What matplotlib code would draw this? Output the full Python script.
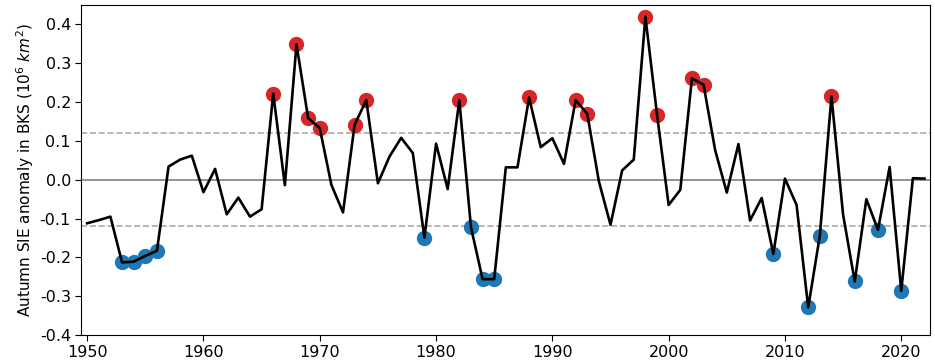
import numpy as np
import matplotlib
matplotlib.use("Agg")
import matplotlib.pyplot as plt

# jaren en herfst-SIE anomalie in BKS (10^6 km^2)
jaren = np.arange(1950, 2023)
anomalie = np.array([
    -0.112, -0.104, -0.095, -0.213, -0.211, -0.196, -0.183, 0.034, 0.052, 0.062,
    -0.032, 0.028, -0.089, -0.046, -0.095, -0.076, 0.222, -0.014, 0.349, 0.159,
    0.133, -0.013, -0.084, 0.142, 0.205, -0.009, 0.060, 0.108, 0.069, -0.149,
    0.093, -0.024, 0.205, -0.122, -0.256, -0.256, 0.032, 0.032, 0.212, 0.084,
    0.107, 0.041, 0.205, 0.170, -0.004, -0.116, 0.024, 0.052, 0.420, 0.168,
    -0.065, -0.026, 0.261, 0.245, 0.076, -0.033, 0.092, -0.105, -0.047, -0.191,
    0.003, -0.065, -0.329, -0.144, 0.215, -0.090, -0.262, -0.050, -0.129, 0.033,
    -0.286, 0.004, 0.003,
])
drempel = 0.12
y_ticks = [-0.4, -0.3, -0.2, -0.1, 0.0, 0.1, 0.2, 0.3, 0.4]
x_ticks = [1950, 1960, 1970, 1980, 1990, 2000, 2010, 2020]

hoog = anomalie > drempel
laag = anomalie < -drempel

fig, ax = plt.subplots(figsize=(9.35, 3.63), dpi=100)
fig.subplots_adjust(left=0.087, right=0.995, top=0.986, bottom=0.077)

ax.axhline(0, color="gray", linewidth=1.2, zorder=1)
ax.axhline(drempel, color="#aaaaaa", linewidth=1.2, linestyle="--", zorder=1)
ax.axhline(-drempel, color="#aaaaaa", linewidth=1.2, linestyle="--", zorder=1)

ax.scatter(jaren[hoog], anomalie[hoog], s=100, color="#d62728", zorder=2)
ax.scatter(jaren[laag], anomalie[laag], s=100, color="#1f77b4", zorder=2)
ax.plot(jaren, anomalie, color="black", linewidth=1.9, zorder=3)

ax.set_xlim(1949.5, 2022.5)
ax.set_ylim(-0.4, 0.45)
ax.set_yticks(y_ticks)
ax.set_yticklabels([f"{t:.1f}" for t in y_ticks])
ax.set_xticks(x_ticks)
ax.tick_params(labelsize=11.5, length=4)
ax.set_ylabel("Autumn SIE anomaly in BKS (10$^6$ $km^2$)", fontsize=11, labelpad=3)

fig.savefig("out.png", dpi=100)
